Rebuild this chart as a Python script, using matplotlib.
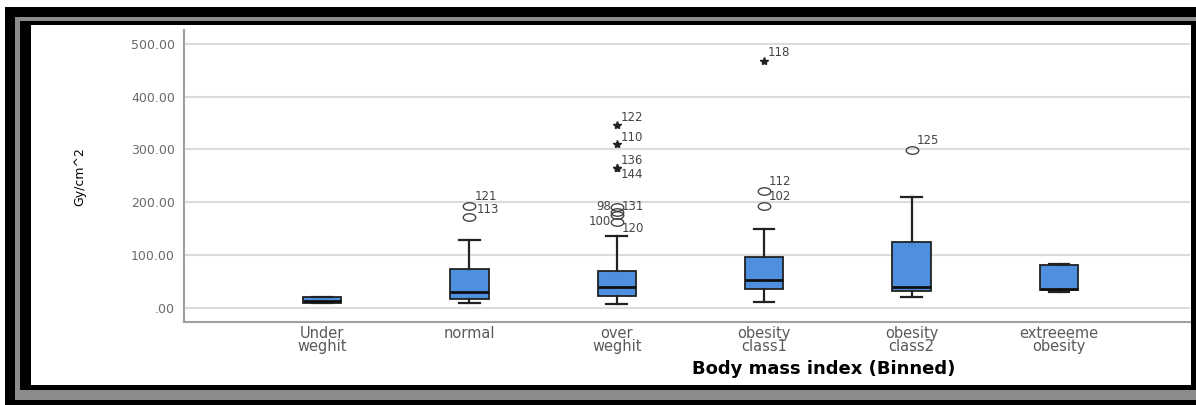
import matplotlib
matplotlib.use('Agg')
import matplotlib.pyplot as plt
from matplotlib.patches import Rectangle
from matplotlib.path import Path
from matplotlib.transforms import Affine2D
from matplotlib.ticker import FuncFormatter

plt.rcParams['font.family'] = ['DejaVu Sans']

# data
categories = ['Under\nweghit', 'normal', 'over\nweghit', 'obesity\nclass1', 'obesity\nclass2', 'extreeeme\nobesity']
q1 = [8, 16, 22, 36, 31, 34]
median = [13, 29, 39, 52, 38, 36]
q3 = [19, 73, 70, 95, 124, 81]
whisker_low = [8, 8, 7, 11, 20, 29]
whisker_high = [19, 128, 136, 149, 209, 82]

# outliers (circles) and extremes (stars): category index + value
outlier_cat = [1, 1, 2, 2, 2, 2, 3, 3, 4]
outlier_val = [193, 171, 191, 182, 176, 163, 222, 193, 299]
extreme_cat = [2, 2, 2, 2, 3]
extreme_val = [346, 310, 265, 264, 468]

# case labels next to the points
case_label = ['121', '113', '98', '131', '100', '120', '122', '110', '136', '144', '118', '112', '102', '125']
case_cat = [1, 1, 2, 2, 2, 2, 2, 2, 2, 2, 3, 3, 3, 4]
case_val = [193, 171, 191, 191, 163, 163, 346, 310, 265, 264, 468, 222, 193, 299]
# label offsets in pixels (dx, dy) and alignment
case_off = [(5, 9), (7, 8), (-6, 0), (5, 0), (-6, 0), (5, -7), (4, 8), (4, 7), (4, 7), (4, -6),
            (4, 8), (5, 9), (5, 9), (5, 9)]
case_ha = ['left', 'left', 'right', 'left', 'right', 'left', 'left', 'left', 'left', 'left',
           'left', 'left', 'left', 'left']

W, H = 1196, 405
fig = plt.figure(figsize=(W / 100, H / 100), dpi=100)
fig.patch.set_facecolor('white')


def frame_rect(x0, y0, x1, y1, color):
    fig.add_artist(Rectangle((x0 / W, 1 - y1 / H), (x1 - x0) / W, (y1 - y0) / H,
                             transform=fig.transFigure, facecolor=color,
                             edgecolor='none', zorder=-10))


# screenshot border (black / grey / black)
frame_rect(5, 7, 1200, 410, 'black')
frame_rect(15, 17, 1200, 400, '#8c8c8c')
frame_rect(20, 21, 1200, 390, 'black')
frame_rect(31, 25, 1191, 385, 'white')

ax = fig.add_axes([184 / W, 1 - 322 / H, (1190 - 184) / W, (322 - 30) / H])
ax.set_facecolor('white')

stats = []
for i in range(len(categories)):
    stats.append(dict(med=median[i], q1=q1[i], q3=q3[i],
                      whislo=whisker_low[i], whishi=whisker_high[i], fliers=[]))

positions = list(range(1, len(categories) + 1))
ax.bxp(stats, positions=positions, widths=0.26, capwidths=0.14,
       patch_artist=True, showfliers=False,
       boxprops=dict(facecolor='#4f8fdf', edgecolor='#222222', linewidth=1.3),
       medianprops=dict(color='#111111', linewidth=2),
       whiskerprops=dict(color='#222222', linewidth=1.6),
       capprops=dict(color='#222222', linewidth=1.6))

# SPSS screenshot is stretched sideways, so the circles are flat ellipses
ellipse = Path.unit_circle().transformed(Affine2D().scale(1, 0.6))
ax.plot([positions[c] for c in outlier_cat], outlier_val, linestyle='none',
        marker=ellipse, mfc='none', mec='#444444', ms=9, mew=1, zorder=4)
ax.plot([positions[c] for c in extreme_cat], extreme_val, '*', color='#222222',
        ms=6, zorder=4)

for t, c, v, (dx, dy), ha in zip(case_label, case_cat, case_val, case_off, case_ha):
    ax.annotate(t, (positions[c], v), xytext=(dx, dy), textcoords='offset pixels',
                ha=ha, va='center', fontsize=8.5, color='#444444')

ax.set_xlim(0.064, 6.889)
ax.set_ylim(-27.5, 526.6)
ax.set_yticks([0, 100, 200, 300, 400, 500])


def fmt(v, pos):
    s = f'{v:.2f}'
    return s[1:] if s.startswith('0') else s


ax.yaxis.set_major_formatter(FuncFormatter(fmt))
ax.set_xticks(positions)
ax.set_xticklabels(categories, linespacing=0.85)
ax.tick_params(axis='y', length=0, pad=6.5, labelsize=9, labelcolor='#6a6a6a')
ax.tick_params(axis='x', length=0, pad=3, labelsize=10.5, labelcolor='#5a5a5a')

ax.yaxis.grid(True, color='#dcdcdc', linewidth=1.5)
ax.set_axisbelow(True)
for s in ['top', 'right']:
    ax.spines[s].set_visible(False)
for s in ['left', 'bottom']:
    ax.spines[s].set_color('#a0a0a0')
    ax.spines[s].set_linewidth(1.5)

fig.text(80 / W, 1 - 177 / H, 'Gy/cm^2', rotation=90, ha='center', va='center',
         fontsize=9, color='black')
fig.text(824 / W, 1 - 369 / H, 'Body mass index (Binned)', ha='center', va='center',
         fontsize=13, fontweight='bold', color='black')

fig.savefig('out.png', dpi=100)
